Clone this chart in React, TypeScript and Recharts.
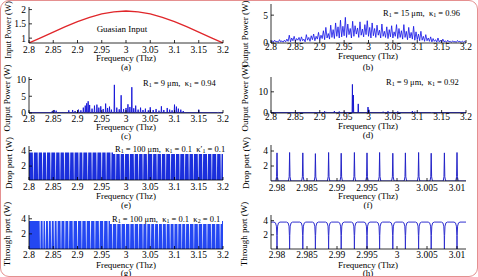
import React from 'react';
import { LineChart, Line, AreaChart, Area, XAxis, YAxis } from 'recharts';

const FONT = "'Liberation Serif', 'Times New Roman', serif";

// (a) Gaussian input pulse
const inputFreq = [2.8, 2.825, 2.85, 2.875, 2.9, 2.925, 2.95, 2.975, 3.0, 3.025, 3.05, 3.075, 3.1, 3.125, 3.15, 3.175, 3.2];
const inputPower = [0.83, 1.02, 1.21, 1.4, 1.58, 1.73, 1.85, 1.92, 1.95, 1.92, 1.85, 1.73, 1.58, 1.4, 1.21, 1.02, 0.83];

// (b) output spectrum, R1 = 15 um, sampled every 0.0025 THz from 2.8 THz
const outStart = 2.8;
const outStep = 0.0025;
const outPowerB = [
  0.1, 0.4, 0.15, 0.5, 0.2, 0.3, 0.1, 0.6, 0.2, 0.4, 0.15, 0.5,
  0.2, 0.7, 0.3, 1.4, 0.2, 0.9, 0.4, 1.2, 0.3, 0.8, 0.5, 1.0,
  0.3, 1.1, 0.4, 0.7, 0.2, 1.5, 0.5, 1.0, 0.3, 1.3, 0.6, 1.6,
  0.4, 1.2, 0.7, 1.9, 0.5, 1.4, 0.8, 2.2, 0.6, 2.8, 0.9, 1.7,
  0.7, 3.2, 1.0, 2.4, 0.8, 3.6, 1.2, 2.9, 0.9, 4.1, 1.1, 3.0,
  1.3, 4.6, 1.0, 3.4, 1.5, 2.6, 0.9, 3.9, 1.2, 3.1, 1.6, 2.7,
  1.0, 3.8, 1.4, 2.5, 1.1, 3.3, 1.5, 4.0, 1.2, 2.8, 0.9, 3.6,
  1.3, 2.6, 1.0, 3.2, 1.4, 2.3, 0.9, 3.4, 1.2, 2.1, 1.0, 2.9,
  0.8, 2.4, 1.1, 3.1, 0.9, 2.0, 1.2, 3.3, 0.8, 2.6, 1.0, 2.2,
  0.7, 3.3, 1.0, 2.1, 0.6, 2.8, 0.9, 1.9, 0.7, 3.0, 0.5, 2.0,
  0.6, 1.6, 0.4, 2.1, 0.5, 1.2, 0.3, 1.5, 0.4, 0.9, 0.3, 1.1,
  0.2, 0.8, 0.3, 0.6, 0.15, 0.9, 0.2, 0.5, 0.1, 0.7, 0.2, 0.4,
  0.1, 0.5, 0.2, 0.3, 0.1, 0.4, 0.15, 0.3, 0.1, 0.45, 0.2, 0.3,
  0.1, 0.35, 0.15, 0.3, 0.1,
];

// (c) output spectrum, R1 = 9 um, k1 = 0.94: resonance lines
const lineFreqC = [
  2.848, 2.852, 2.856, 2.87, 2.882, 2.89, 2.895, 2.902, 2.907, 2.912, 2.916, 2.919, 2.922, 2.925,
  2.93, 2.935, 2.94, 2.944, 2.948, 2.953, 2.958, 2.962, 2.966, 2.97, 2.976, 2.981, 2.986, 2.99,
  2.995, 3.0, 3.004, 3.008, 3.012, 3.016, 3.02, 3.025, 3.03, 3.035, 3.04, 3.046, 3.05, 3.056,
  3.062, 3.068, 3.073, 3.078, 3.085, 3.09, 3.095, 3.1, 3.104, 3.108, 3.113, 3.118, 3.15, 3.19,
];
const linePowerC = [
  0.6, 0.9, 0.7, 0.3, 0.8, 0.9, 0.6, 1.0, 0.8, 1.6, 2.2, 2.9, 3.5, 2.4,
  1.3, 2.2, 2.5, 1.6, 2.0, 1.2, 2.8, 1.5, 1.9, 1.0, 8.4, 1.6, 1.1, 5.3,
  1.2, 1.5, 2.6, 1.8, 7.7, 1.4, 2.2, 1.0, 1.6, 0.9, 1.3, 0.8, 1.7, 0.9,
  1.2, 0.7, 2.0, 0.9, 1.5, 1.0, 0.8, 2.5, 1.9, 1.3, 1.0, 0.6, 1.0, 0.2,
];

// (d) output spectrum, R1 = 9 um, k1 = 0.92
const lineFreqD = [2.91, 2.913, 2.93, 2.94, 2.95, 2.967, 2.969, 2.979, 2.999, 3.001, 3.03, 3.04, 3.05, 3.06, 3.09, 3.095, 3.13];
const linePowerD = [0.8, 0.5, 0.9, 0.7, 0.6, 13.5, 8.5, 4.3, 2.8, 1.5, 0.6, 0.8, 0.5, 0.7, 0.9, 0.6, 0.3];

// (e) drop port over the full band: level and visible minima
const dropLevel = 3.75;
const dropGaps = [
  2.809, 2.819, 2.828, 2.836, 2.845, 2.855, 2.864, 2.873, 2.884, 2.893, 2.903, 2.911, 2.921, 2.93,
  2.94, 2.95, 2.959, 2.969, 2.979, 2.988, 2.997, 3.007, 3.017, 3.026, 3.035, 3.044, 3.055, 3.064,
  3.073, 3.082, 3.092, 3.102, 3.111, 3.121, 3.13, 3.139, 3.149, 3.158, 3.168, 3.177, 3.187, 3.196,
];

// (f)/(h) resonance comb in the 2.98-3.01 THz window
const combFreq = [2.98, 2.9821, 2.9843, 2.9864, 2.9886, 2.9907, 2.9929, 2.995, 2.9971, 2.9993, 3.0014, 3.0036, 3.0057, 3.0079, 3.01];
const dropPeak = [3.75, 3.8, 3.75, 3.65, 3.8, 3.7, 3.8, 3.75, 3.8, 3.7, 3.75, 3.8, 3.7, 3.75, 3.8];
const throughLevel = 3.8;

// (g) through port over the full band: level and visible minima
const throughFullLevel = 3.7;
const throughGaps = [
  2.823, 2.829, 2.834, 2.84, 2.846, 2.852, 2.858, 2.866, 2.874, 2.882, 2.891, 2.9, 2.909, 2.918,
  2.927, 2.936, 2.945, 2.954, 2.963, 2.972, 2.981, 2.99, 2.999, 3.008, 3.017, 3.026, 3.035, 3.043,
  3.051, 3.059, 3.067, 3.075, 3.083, 3.091, 3.099, 3.107, 3.115, 3.123, 3.131, 3.14, 3.149, 3.158,
  3.167, 3.176, 3.185, 3.194,
];

const wideTicks = [2.8, 2.85, 2.9, 2.95, 3, 3.05, 3.1, 3.15, 3.2];
const narrowTicks = [2.98, 2.985, 2.99, 2.995, 3, 3.005, 3.01];
const WIDE: [number, number] = [2.8, 3.2];
const NARROW: [number, number] = [2.979, 3.0115];

type Pt = { f: number; p: number };

// line shapes (frequency offsets in THz, relative height)
const PEAK_DX = [-0.0002, -0.00007, 0, 0.00007, 0.0002];
const PEAK_K = [0, 0.15, 1, 0.15, 0];
const DIP_DX = [-0.0005, -0.00025, -0.0001, -0.00003, 0, 0.00003, 0.0001, 0.00025, 0.0005];
const DIP_K = [1, 0.97, 0.85, 0.5, 0, 0.5, 0.85, 0.97, 1];

const gaussData: Pt[] = inputFreq.map((f, i) => ({ f, p: inputPower[i] }));
const dataB: Pt[] = outPowerB.map((p, i) => ({ f: outStart + i * outStep, p }));

function lines(freqs: number[], heights: number[], floor: number, hw: number, d: [number, number]): Pt[] {
  const out: Pt[] = [{ f: d[0], p: floor }];
  freqs.forEach((f, i) => {
    out.push({ f: f - hw, p: floor }, { f, p: heights[i] }, { f: f + hw, p: floor });
  });
  out.push({ f: d[1], p: floor });
  return out;
}

function notches(gaps: number[], level: number, floor: number, hw: number, d: [number, number]): Pt[] {
  const out: Pt[] = [{ f: d[0], p: level }];
  gaps.forEach((g) => {
    out.push({ f: g - hw, p: level }, { f: g - hw * 0.3, p: floor }, { f: g + hw * 0.3, p: floor }, { f: g + hw, p: level });
  });
  out.push({ f: d[1], p: level });
  return out;
}

function comb(freqs: number[], heights: number[]): Pt[] {
  const out: Pt[] = [{ f: NARROW[0], p: 0 }];
  freqs.forEach((f, i) => PEAK_DX.forEach((dx, k) => out.push({ f: f + dx, p: heights[i] * PEAK_K[k] })));
  out.push({ f: NARROW[1], p: 0 });
  return out;
}

function dips(freqs: number[], level: number): Pt[] {
  const out: Pt[] = [{ f: NARROW[0], p: level }];
  freqs.forEach((f) => DIP_DX.forEach((dx, k) => out.push({ f: f + dx, p: level * DIP_K[k] })));
  out.push({ f: NARROW[1], p: level });
  return out;
}

const dataC = lines(lineFreqC, linePowerC, 0.1, 0.0007, WIDE);
const dataD = lines(lineFreqD, linePowerD, 0.15, 0.0006, WIDE);
const dataE = notches(dropGaps, dropLevel, 0.2, 0.0011, WIDE);
const dataF = comb(combFreq, dropPeak);
const dataG = notches(throughGaps, throughFullLevel, 0, 0.0011, WIDE);
const dataH = dips(combFreq, throughLevel);

type FrameProps = {
  x: number; y: number; w: number; h: number;
  data: Pt[];
  xDomain: [number, number]; xTicks: number[];
  yDomain: [number, number]; yTicks: number[];
  xGap: number;
  area?: boolean;
  children: React.ReactNode;
};

const tickStyle = { fontSize: 9.5, fill: '#000', fontFamily: FONT };

function Frame({ x, y, w, h, data, xDomain, xTicks, yDomain, yTicks, xGap, area, children }: FrameProps) {
  const L = 34, T = 6, R = 14, B = 22;
  const Chart: any = area ? AreaChart : LineChart;
  return (
    <div style={{ position: 'absolute', left: x - L, top: y - T }}>
      <Chart width={w + L + R} height={h + T + B} data={data} margin={{ top: T, right: R, bottom: 0, left: 0 }}>
        <XAxis dataKey="f" type="number" domain={xDomain} ticks={xTicks} allowDataOverflow interval={0}
          height={B} tickSize={-3} tickMargin={xGap + 3} stroke="#000" strokeWidth={0.8} tick={tickStyle} />
        <XAxis xAxisId="top" orientation="top" type="number" domain={xDomain} ticks={xTicks} allowDataOverflow interval={0}
          height={0} tickSize={-3} tick={false} stroke="#000" strokeWidth={0.8} />
        <YAxis type="number" domain={yDomain} ticks={yTicks} allowDataOverflow interval={0}
          width={L} tickSize={-3} tickMargin={6} stroke="#000" strokeWidth={0.8} tick={tickStyle} />
        <YAxis yAxisId="right" orientation="right" type="number" domain={yDomain} ticks={yTicks} allowDataOverflow interval={0}
          width={0} tickSize={-3} tick={false} stroke="#000" strokeWidth={0.8} />
        {children}
      </Chart>
    </div>
  );
}

function Text({ cx, cy, children, size = 9 }: { cx: number; cy: number; children: React.ReactNode; size?: number }) {
  return (
    <div style={{ position: 'absolute', left: cx - 80, top: cy - 4, width: 160, height: 8, lineHeight: '8px', textAlign: 'center', fontSize: size, whiteSpace: 'nowrap' }}>
      {children}
    </div>
  );
}

function VText({ cx, cy, children, size = 9 }: { cx: number; cy: number; children: React.ReactNode; size?: number }) {
  return (
    <div style={{ position: 'absolute', left: cx - 60, top: cy - 5, width: 120, height: 10, lineHeight: '10px', textAlign: 'center', fontSize: size, whiteSpace: 'nowrap', transform: 'rotate(-90deg)' }}>
      {children}
    </div>
  );
}

function Note({ left, cy, children, boxed }: { left: number; cy: number; children: React.ReactNode; boxed?: boolean }) {
  return (
    <div style={{ position: 'absolute', left, top: cy - 5, height: 10, lineHeight: '10px', fontSize: 8.5, whiteSpace: 'nowrap', background: boxed ? '#fff' : 'transparent', padding: boxed ? '0 2px' : 0 }}>
      {children}
    </div>
  );
}

const sub = (s: string) => <sub style={{ fontSize: 6, verticalAlign: '-1px' }}>{s}</sub>;

const LX = 29, LW = 194, RX = 271, RW = 195;

export default function App() {
  return (
    <div style={{ position: 'absolute', left: 0, top: 0, width: 478, height: 277, background: '#fff', fontFamily: FONT, color: '#000', overflow: 'hidden' }}>
      {/* (a) */}
      <Frame x={LX} y={7} w={LW} h={36} data={gaussData} xDomain={WIDE} xTicks={wideTicks} yDomain={[0.83, 2.09]} yTicks={[1, 1.5, 2]} xGap={3.5}>
        <Line dataKey="p" stroke="#e0262a" strokeWidth={1.3} dot={false} isAnimationActive={false} />
      </Frame>
      <Text cx={122} cy={29}>Guasian Input</Text>
      <VText cx={8} cy={30} size={8.5}>Input Power (W)</VText>
      <Text cx={126} cy={58}>Frequency (Thz)</Text>
      <Text cx={126} cy={67}>(a)</Text>

      {/* (b) */}
      <Frame x={RX} y={4} w={RW} h={39} data={dataB} xDomain={WIDE} xTicks={wideTicks} yDomain={[0, 7]} yTicks={[0, 5]} xGap={0.6}>
        <Line dataKey="p" stroke="#1010e6" strokeWidth={0.8} dot={false} isAnimationActive={false} />
      </Frame>
      <Note left={383} cy={13}>R{sub('1')} = 15 μm,&nbsp; κ{sub('1')} = 0.96</Note>
      <VText cx={245} cy={34}>Output Power (W)</VText>
      <Text cx={368} cy={56}>Frequency (Thz)</Text>
      <Text cx={368} cy={67}>(b)</Text>

      {/* (c) */}
      <Frame x={LX} y={77} w={LW} h={36} data={dataC} xDomain={WIDE} xTicks={wideTicks} yDomain={[0, 10.75]} yTicks={[0, 5, 10]} xGap={2.6}>
        <Line dataKey="p" stroke="#1212d8" strokeWidth={0.9} dot={false} isAnimationActive={false} />
      </Frame>
      <Note left={143} cy={83}>R{sub('1')} = 9 μm,&nbsp; κ{sub('1')} = 0.94</Note>
      <VText cx={7} cy={98}>Output Power (W)</VText>
      <Text cx={126} cy={127}>Frequency (Thz)</Text>
      <Text cx={126} cy={136}>(c)</Text>

      {/* (d) */}
      <Frame x={RX} y={77} w={RW} h={36} data={dataD} xDomain={WIDE} xTicks={wideTicks} yDomain={[0, 17]} yTicks={[0, 10]} xGap={0.6}>
        <Line dataKey="p" stroke="#1a1ad0" strokeWidth={1} dot={false} isAnimationActive={false} />
      </Frame>
      <Note left={386} cy={82}>R{sub('1')} = 9 μm,&nbsp; κ{sub('1')} = 0.92</Note>
      <VText cx={245} cy={98}>Output Power (W)</VText>
      <Text cx={368} cy={126}>Frequency (Thz)</Text>
      <Text cx={368} cy={135}>(d)</Text>

      {/* (e) */}
      <Frame x={LX} y={146} w={LW} h={34} data={dataE} xDomain={WIDE} xTicks={wideTicks} yDomain={[0.2, 4.6]} yTicks={[2, 4]} xGap={3.6} area>
        <Area dataKey="p" type="linear" stroke="none" fill="#1b2fdc" fillOpacity={1} isAnimationActive={false} />
      </Frame>
      <Note left={113} cy={149} boxed>R{sub('1')} = 100 μm,&nbsp; κ{sub('1')} = 0.1&nbsp; κ′{sub('1')} = 0.1</Note>
      <VText cx={9} cy={163}>Drop port (W)</VText>
      <Text cx={126} cy={196}>Frequency (Thz)</Text>
      <Text cx={126} cy={205}>(e)</Text>

      {/* (f) */}
      <Frame x={RX} y={145} w={RW} h={36} data={dataF} xDomain={NARROW} xTicks={narrowTicks} yDomain={[0, 4.8]} yTicks={[2, 4]} xGap={3.6}>
        <Line dataKey="p" stroke="#2424c8" strokeWidth={1} dot={false} isAnimationActive={false} />
      </Frame>
      <VText cx={246} cy={163}>Drop port (W)</VText>
      <Text cx={368} cy={196}>Frequency (Thz)</Text>
      <Text cx={368} cy={205}>(f)</Text>

      {/* (g) */}
      <Frame x={LX} y={215} w={LW} h={34} data={dataG} xDomain={WIDE} xTicks={wideTicks} yDomain={[0, 4.5]} yTicks={[2, 4]} xGap={2.6} area>
        <Area dataKey="p" type="linear" stroke="none" fill="#2447f2" fillOpacity={1} isAnimationActive={false} />
      </Frame>
      <Note left={110} cy={219} boxed>R{sub('1')} = 100 μm,&nbsp; κ{sub('1')} = 0.1&nbsp; κ{sub('2')} = 0.1</Note>
      <VText cx={7} cy={234}>Through port (W)</VText>
      <Text cx={126} cy={265}>Frequency (Thz)</Text>
      <Text cx={126} cy={273}>(g)</Text>

      {/* (h) */}
      <Frame x={RX} y={215} w={RW} h={34} data={dataH} xDomain={NARROW} xTicks={narrowTicks} yDomain={[0, 4.8]} yTicks={[2, 4]} xGap={2.6}>
        <Line dataKey="p" stroke="#3131d0" strokeWidth={1} dot={false} isAnimationActive={false} />
      </Frame>
      <VText cx={244} cy={234}>Through port (W)</VText>
      <Text cx={368} cy={265}>Frequency (Thz)</Text>
      <Text cx={368} cy={273}>(h)</Text>

      <div style={{ position: 'absolute', left: 0, top: 0, width: 476, height: 275, border: '1px solid #e59090', borderRadius: 9, pointerEvents: 'none' }} />
    </div>
  );
}
